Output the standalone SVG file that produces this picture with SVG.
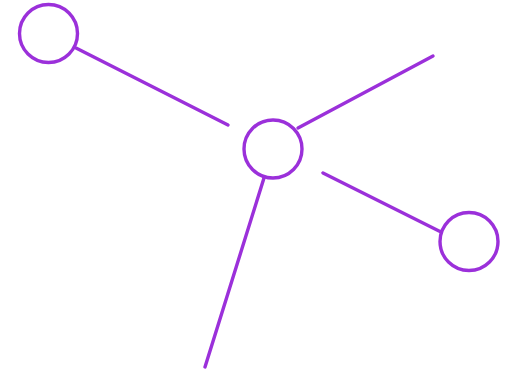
<svg xmlns="http://www.w3.org/2000/svg" width="514" height="373" viewBox="0 0 514 373">
<style>
.n{fill:#fff;stroke:#9b30da;stroke-width:3.4}
.c line{stroke:#9b30da;stroke-width:3.4;stroke-linecap:round}
</style>
<rect width="514" height="373" fill="#fff"/>
<g class="c" id="connectors">
<line x1="76" y1="48" x2="228" y2="125"/>
<line x1="298" y1="128" x2="433" y2="56"/>
<line x1="323" y1="173" x2="441" y2="232"/>
<line x1="264" y1="178" x2="205" y2="367"/>
</g>
<g id="node1"><circle class="n" cx="48.5" cy="33.5" r="29"/></g>
<g id="node2"><circle class="n" cx="273" cy="149" r="29"/></g>
<g id="node3"><circle class="n" cx="469" cy="241.5" r="29"/></g>
</svg>
